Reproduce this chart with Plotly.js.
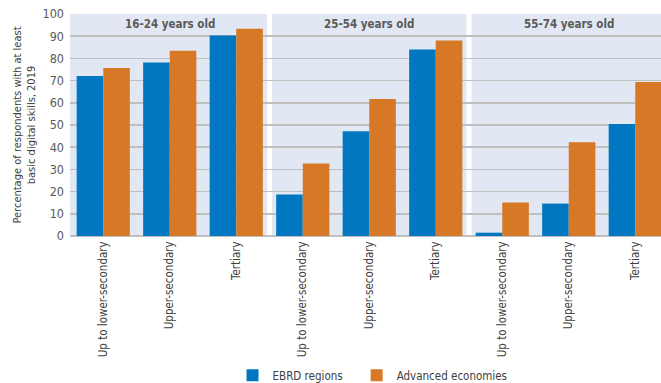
<!DOCTYPE html>
<html><head><meta charset="utf-8">
<script src="https://cdn.plot.ly/plotly-3.0.1.min.js"></script>
<style>html,body{margin:0;padding:0;background:#fff;}#chart{width:661px;height:383px;}</style>
</head><body><div id="chart"></div>
<script>
const ageGroups = ["16-24 years old", "25-54 years old", "55-74 years old"];
const education = ["Up to lower-secondary", "Upper-secondary", "Tertiary"];
const ebrd = [72.1, 78.1, 90.3, 18.7, 47.2, 84.0, 1.5, 14.6, 50.5];
const advanced = [75.7, 83.4, 93.3, 32.7, 61.7, 88.1, 15.1, 42.2, 69.4];
const yTicks = [0, 10, 20, 30, 40, 50, 60, 70, 80, 90, 100];

const FONT = "'DejaVu Sans Condensed', 'Liberation Sans', sans-serif";
const xIdx = [], tickText = [];
ageGroups.forEach((g, gi) => education.forEach((e, ei) => { xIdx.push(gi * education.length + ei); tickText.push(e); }));

const traces = [
  {type: 'bar', name: 'EBRD regions', x: xIdx, y: ebrd, marker: {color: '#0077C0'}, legend: 'legend'},
  {type: 'bar', name: 'Advanced economies', x: xIdx, y: advanced, marker: {color: '#D67826'}, legend: 'legend2'}
];

const shapes = [], annotations = [];
ageGroups.forEach((g, gi) => {
  const x0 = gi * 3 - 0.5, x1 = gi * 3 + 2.5;
  shapes.push({type: 'rect', xref: 'x', yref: 'paper', x0: x0, x1: x1, y0: 0, y1: 1,
    fillcolor: '#E1E8F3', line: {width: 0}, layer: 'below'});
  annotations.push({text: '<b>' + g + '</b>', x: gi * 3 + 1, y: 95.5, xref: 'x', yref: 'y',
    showarrow: false, font: {family: FONT, size: 11.5, color: '#5A5A5A'}});
});
[2.5, 5.5].forEach(v => shapes.push({type: 'line', xref: 'x', yref: 'paper', x0: v, x1: v, y0: 0, y1: 1,
  line: {color: '#FFFFFF', width: 5}, layer: 'below'}));

const legendBase = {orientation: 'h', xanchor: 'left', yref: 'container', y: 0.02, yanchor: 'middle',
  bgcolor: 'rgba(0,0,0,0)', font: {family: FONT, size: 11.5, color: '#404040'}, itemwidth: 30};

const layout = {
  width: 661, height: 383,
  margin: {l: 70, r: 0, t: 14, b: 147, autoexpand: false},
  paper_bgcolor: '#FFFFFF', plot_bgcolor: '#FFFFFF',
  font: {family: FONT, color: '#404040', size: 12},
  barmode: 'group', bargap: 0.2, bargroupgap: 0,
  xaxis: {range: [-0.5, 8.387], tickmode: 'array', tickvals: xIdx, ticktext: tickText,
    tickangle: -90, showgrid: false, zeroline: false, showline: false, ticks: '',
    ticklabelstandoff: 2, automargin: false,
    tickfont: {family: FONT, size: 11.5, color: '#404040'}},
  yaxis: {range: [0, 100], tickmode: 'array', tickvals: yTicks, showgrid: true, automargin: false,
    gridcolor: '#BFBFBF', gridwidth: 1.5, zeroline: true, zerolinecolor: '#BFBFBF', zerolinewidth: 1.5,
    ticks: '', ticklabelstandoff: 5, tickfont: {family: FONT, size: 12.5, color: '#595959'},
    title: {text: 'Percentage of respondents with at least<br>basic digital skills, 2019',
      font: {family: FONT, size: 11, color: '#404040'}, standoff: 4}},
  legend: Object.assign({}, legendBase, {x: 0.275}),
  legend2: Object.assign({}, legendBase, {x: 0.485}),
  shapes: shapes, annotations: annotations, showlegend: true
};
Plotly.newPlot('chart', traces, layout, {displayModeBar: false, staticPlot: true});
</script></body></html>
